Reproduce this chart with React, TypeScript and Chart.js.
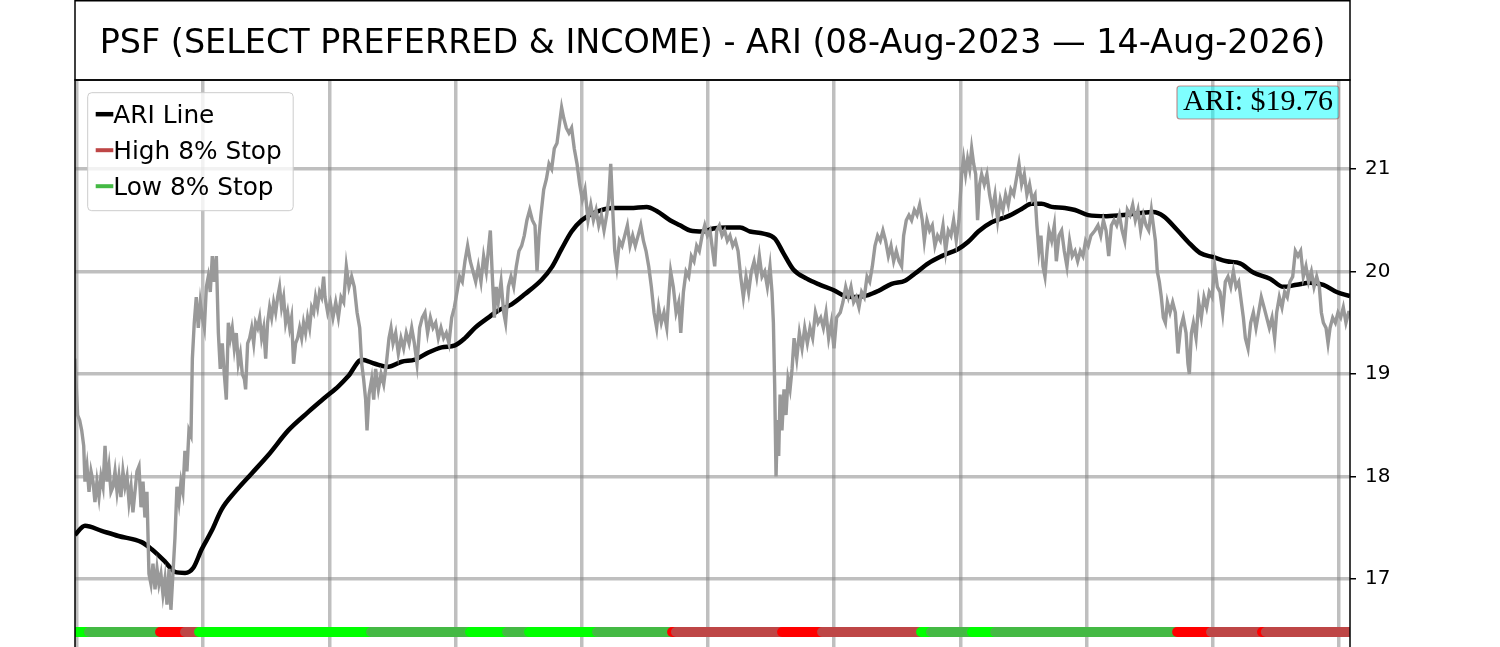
import React, { useEffect, useRef } from "react";
import { Chart, registerables } from "chart.js";

Chart.register(...registerables);

const TITLE = "PSF (SELECT PREFERRED & INCOME) - ARI (08-Aug-2023 \u2014 14-Aug-2026)";
const LAST_LABEL = "ARI: $19.76";
const LEGEND_LABELS = ["ARI Line", "High 8% Stop", "Low 8% Stop"];

const X_MIN = -1.6;
const X_MAX = 1008.7;
const Y_MIN = 16.337;
const Y_MAX = 21.868;
const Y_TICKS = [17, 18, 19, 20, 21];
const X_GRID = [0, 100, 200, 300, 400, 500, 600, 700, 800, 900, 1000];
const BAND_LEVEL = 16.483;

// daily close (trading-day index, price)
const PRICE: [number, number][] = [
  [-1.6, 19.15], [-0.5, 18.85], [0.5, 18.6], [2.1, 18.55], [3.7, 18.45], [5.3, 18.3], [6.3, 17.95], [7.9, 18.1],
  [9.5, 17.85], [11.1, 18.05], [12.7, 17.95], [14.2, 17.75], [15.8, 17.95], [17.4, 17.8], [19.0, 18.0], [20.6, 17.9],
  [22.2, 18.3], [23.7, 17.95], [25.3, 18.1], [26.9, 17.85], [28.5, 17.9], [30.1, 18.05], [31.7, 17.85], [33.2, 18.0],
  [34.8, 17.8], [36.4, 18.05], [38.0, 17.9], [39.6, 18.0], [41.2, 17.75], [42.8, 17.9], [44.3, 17.65], [45.9, 17.85],
  [47.5, 18.05], [49.1, 18.1], [50.7, 17.7], [52.3, 17.95], [53.8, 17.6], [55.4, 17.85], [57.0, 17.05], [58.6, 16.95],
  [60.2, 17.15], [61.8, 16.9], [63.4, 17.1], [64.9, 16.95], [66.5, 17.05], [68.1, 16.85], [69.7, 17.0], [71.3, 16.75],
  [72.9, 17.1], [74.4, 16.7], [76.0, 17.05], [77.6, 17.4], [79.2, 17.9], [80.8, 17.75], [82.4, 17.95], [83.9, 17.85],
  [85.5, 18.25], [87.1, 18.05], [88.7, 18.45], [90.3, 18.4], [91.4, 19.15], [92.9, 19.5], [94.5, 19.75], [96.1, 19.45],
  [97.7, 19.7], [99.3, 19.55], [100.9, 19.45], [102.5, 19.85], [104.0, 19.95], [105.6, 19.8], [107.2, 20.15], [108.8, 19.9],
  [110.4, 20.15], [112.0, 19.4], [113.5, 19.05], [115.1, 19.3], [116.7, 19.0], [118.3, 18.75], [119.9, 19.5], [121.5, 19.35],
  [123.0, 19.45], [124.6, 19.25], [126.2, 19.4], [127.8, 19.1], [129.4, 19.2], [131.0, 19.0], [132.6, 18.95], [133.6, 18.85],
  [135.2, 19.3], [136.8, 19.35], [138.4, 19.45], [140.0, 19.3], [141.5, 19.5], [143.1, 19.45], [144.7, 19.55], [146.3, 19.35],
  [147.9, 19.45], [149.5, 19.15], [151.0, 19.5], [152.6, 19.65], [154.2, 19.55], [155.8, 19.7], [157.4, 19.6], [159.0, 19.75],
  [160.5, 19.85], [162.1, 19.65], [163.7, 19.75], [165.3, 19.5], [166.9, 19.6], [168.5, 19.45], [170.0, 19.55], [171.6, 19.1],
  [173.2, 19.3], [174.8, 19.35], [176.4, 19.45], [178.0, 19.35], [179.5, 19.5], [181.1, 19.4], [182.7, 19.55], [184.3, 19.45],
  [185.9, 19.65], [187.5, 19.6], [189.0, 19.75], [190.6, 19.65], [192.2, 19.8], [193.8, 19.75], [195.4, 19.95],
  [196.5, 19.75], [198.6, 19.6], [200.7, 19.7], [202.8, 19.55], [205.0, 19.7], [207.1, 19.55], [209.2, 19.75], [211.3, 19.7],
  [213.4, 20.05], [215.5, 19.85], [217.6, 19.95], [219.7, 19.85], [221.9, 19.6], [224.0, 19.45], [225.6, 19.1], [227.1, 18.95],
  [228.7, 18.75], [229.8, 18.45], [231.4, 18.8], [233.5, 18.95], [235.1, 18.75], [236.6, 19.05], [238.8, 18.85], [240.9, 19.0],
  [243.0, 18.9], [245.1, 19.1], [247.2, 19.35], [248.8, 19.45], [250.4, 19.3], [252.5, 19.4], [254.6, 19.2], [256.7, 19.35],
  [258.8, 19.25], [260.9, 19.4], [263.1, 19.3], [265.2, 19.45], [267.3, 19.3], [269.4, 19.1], [271.5, 19.45], [273.6, 19.55],
  [275.7, 19.6], [277.8, 19.4], [280.0, 19.55], [282.1, 19.45], [284.2, 19.5], [286.3, 19.35], [288.4, 19.45], [290.5, 19.35],
  [292.6, 19.4], [294.7, 19.3], [296.9, 19.55], [299.0, 19.65], [301.1, 19.8], [303.2, 19.95], [305.3, 19.9], [307.4, 20.1],
  [309.5, 20.25], [311.6, 20.1], [313.8, 20.0], [315.9, 19.9], [318.0, 20.05], [320.1, 19.9], [322.2, 20.15], [324.3, 20.0],
  [325.9, 20.2], [327.5, 20.4], [329.1, 19.95], [330.7, 19.55], [332.2, 19.85], [333.8, 19.7], [336.0, 19.9], [338.1, 19.6],
  [339.6, 19.5], [341.8, 19.85], [343.9, 19.95], [346.0, 19.85], [348.1, 20.05], [350.2, 20.2], [352.3, 20.25], [354.4, 20.35],
  [356.5, 20.5], [358.7, 20.6], [360.8, 20.5], [362.9, 20.45], [364.5, 20.0], [366.1, 20.35], [367.6, 20.55], [369.8, 20.8],
  [371.9, 20.9], [374.0, 21.05], [376.1, 21.0], [378.2, 21.2], [380.3, 21.25], [382.4, 21.45], [384.0, 21.6], [385.6, 21.5],
  [387.7, 21.4], [389.8, 21.35], [391.9, 21.4], [394.0, 21.2], [396.2, 21.05], [398.3, 20.85], [400.4, 20.7], [402.5, 20.8],
  [404.9, 20.5], [407.1, 20.65], [409.2, 20.5], [411.3, 20.6], [413.4, 20.45], [415.5, 20.55], [417.6, 20.4], [419.7, 20.55],
  [421.3, 20.7], [422.9, 21.05], [424.5, 20.6], [426.1, 20.2], [427.7, 20.05], [429.8, 20.3], [431.9, 20.25], [434.0, 20.35],
  [436.1, 20.45], [438.2, 20.25], [440.3, 20.35], [442.4, 20.25], [444.6, 20.35], [446.7, 20.45], [448.8, 20.3], [450.9, 20.2],
  [453.0, 20.05], [455.1, 19.85], [457.2, 19.6], [459.3, 19.45], [460.9, 19.65], [463.0, 19.5], [465.1, 19.6], [467.3, 19.45],
  [468.9, 19.75], [470.4, 20.0], [472.5, 19.85], [474.7, 19.6], [476.8, 19.7], [478.4, 19.4], [480.5, 19.8], [482.6, 20.0],
  [484.7, 19.95], [486.8, 20.15], [488.9, 20.1], [491.0, 20.25], [493.1, 20.2], [495.3, 20.35], [497.4, 20.45], [499.5, 20.35],
  [501.6, 20.4], [503.7, 20.2], [505.3, 20.05], [506.9, 20.4], [509.0, 20.45], [511.1, 20.35], [513.2, 20.4], [515.3, 20.3],
  [517.4, 20.35], [519.6, 20.25], [521.7, 20.3], [523.8, 20.2], [525.9, 19.95], [528.0, 19.75], [530.1, 19.95], [532.2, 19.8],
  [534.3, 20.0], [536.5, 20.1], [538.6, 19.95], [540.7, 20.15], [542.8, 19.95], [544.9, 20.0], [547.0, 19.85], [549.1, 20.05],
  [550.7, 19.8], [551.8, 19.5], [552.8, 18.9], [553.9, 18.0], [555.0, 18.55], [556.0, 18.2], [557.1, 18.8], [558.6, 18.45],
  [560.2, 18.85], [561.8, 18.6], [563.4, 18.95], [565.0, 18.85], [566.6, 19.05], [568.2, 19.35], [570.3, 19.15], [572.4, 19.4],
  [574.5, 19.25], [576.6, 19.45], [578.7, 19.3], [580.8, 19.45], [582.9, 19.35], [585.1, 19.6], [587.2, 19.5], [589.3, 19.55],
  [591.4, 19.45], [593.5, 19.6], [595.6, 19.35], [597.7, 19.5], [599.8, 19.25], [601.9, 19.55], [604.8, 19.6], [606.9, 19.7],
  [609.1, 19.85], [611.2, 19.75], [613.3, 19.85], [615.4, 19.7], [617.5, 19.75], [619.6, 19.65], [621.7, 19.8], [623.8, 19.75],
  [626.0, 19.95], [628.1, 19.9], [630.2, 20.05], [632.3, 20.25], [634.4, 20.35], [636.5, 20.3], [638.6, 20.4], [640.7, 20.3],
  [642.9, 20.15], [645.0, 20.25], [647.1, 20.1], [649.2, 20.2], [651.3, 20.1], [653.4, 20.05], [655.0, 20.35], [657.1, 20.5],
  [659.2, 20.55], [661.3, 20.5], [663.5, 20.6], [665.6, 20.55], [667.7, 20.65], [669.8, 20.5], [671.4, 20.3], [673.5, 20.5],
  [675.6, 20.4], [677.7, 20.45], [679.8, 20.25], [681.9, 20.35], [684.1, 20.3], [686.2, 20.45], [688.3, 20.2], [690.4, 20.4],
  [692.5, 20.35], [694.6, 20.5], [696.7, 20.3], [698.8, 20.5], [701.0, 20.95], [702.5, 21.1], [704.1, 20.95], [705.7, 21.1],
  [707.3, 21.0], [708.9, 21.2], [710.5, 21.05], [712.1, 20.95], [713.6, 20.5], [715.2, 20.85], [716.8, 20.95], [718.9, 20.85],
  [721.0, 20.95], [723.1, 20.75], [725.3, 20.6], [727.4, 20.75], [729.5, 20.5], [731.6, 20.7], [733.7, 20.6], [735.8, 20.75],
  [737.9, 20.65], [740.0, 20.8], [742.2, 20.75], [744.3, 20.9], [746.4, 21.05], [748.5, 20.85], [750.6, 20.95], [752.7, 20.75],
  [754.8, 20.85], [756.9, 20.7], [759.1, 20.75], [760.6, 20.45], [762.2, 20.2], [763.8, 20.35], [765.4, 20.05], [767.0, 19.95],
  [768.6, 20.2], [770.2, 20.4], [772.3, 20.3], [774.4, 20.45], [776.0, 20.1], [778.1, 20.35], [780.2, 20.4], [782.3, 20.2],
  [784.4, 20.05], [786.5, 20.3], [788.6, 20.15], [790.8, 20.2], [792.9, 20.1], [795.0, 20.2], [797.1, 20.15], [799.2, 20.3],
  [801.3, 20.25], [803.4, 20.35], [806.6, 20.4], [809.0, 20.45], [811.2, 20.35], [813.3, 20.5], [815.4, 20.4], [817.5, 20.15],
  [819.6, 20.45], [821.7, 20.5], [823.8, 20.45], [826.0, 20.55], [828.1, 20.4], [830.2, 20.3], [832.3, 20.6], [834.4, 20.55],
  [836.5, 20.65], [838.6, 20.5], [840.7, 20.6], [842.8, 20.4], [845.0, 20.55], [847.1, 20.45], [849.2, 20.4], [851.3, 20.6],
  [852.9, 20.45], [854.5, 20.3], [856.0, 20.0], [857.6, 19.9], [859.2, 19.75], [860.8, 19.55], [862.4, 19.5], [864.0, 19.7],
  [866.1, 19.6], [868.2, 19.7], [870.3, 19.6], [872.4, 19.2], [874.5, 19.45], [876.6, 19.55], [878.8, 19.4], [880.3, 19.1],
  [881.4, 19.0], [883.0, 19.4], [884.6, 19.5], [886.7, 19.35], [888.8, 19.7], [890.9, 19.55], [893.0, 19.75], [895.1, 19.65],
  [897.2, 19.8], [899.4, 19.75], [901.5, 20.05], [903.6, 19.85], [905.7, 19.8], [907.8, 19.6], [909.9, 19.9], [912.0, 19.95],
  [914.2, 19.85], [916.3, 20.0], [918.4, 19.85], [920.5, 19.9], [922.6, 19.7], [924.2, 19.55], [925.8, 19.35], [927.9, 19.25],
  [930.0, 19.5], [932.1, 19.6], [934.2, 19.45], [936.3, 19.6], [938.4, 19.75], [940.6, 19.65], [942.7, 19.55], [944.8, 19.45],
  [946.9, 19.55], [949.0, 19.35], [950.6, 19.6], [952.7, 19.75], [954.8, 19.65], [956.9, 19.8], [959.0, 19.75], [961.1, 19.9],
  [963.3, 19.95], [965.4, 20.2], [967.5, 20.15], [969.6, 20.2], [971.7, 19.95], [973.8, 20.05], [975.9, 19.9], [978.1, 20.0],
  [980.2, 19.85], [982.3, 19.95], [984.4, 19.85], [986.0, 19.6], [987.6, 19.5], [989.7, 19.45], [991.3, 19.3], [992.9, 19.45],
  [995.0, 19.55], [997.1, 19.5], [999.2, 19.6], [1001.3, 19.55], [1003.4, 19.65], [1005.5, 19.5], [1007.6, 19.6], [1008.7, 19.6],
];

// smoothed ARI line
const ARI: [number, number][] = [
  [-1.6, 17.43], [6.3, 17.52], [19.5, 17.47], [32.8, 17.42], [51.2, 17.36], [59.2, 17.29], [69.7, 17.17], [77.6, 17.07],
  [85.6, 17.06], [92.2, 17.11], [98.8, 17.29], [106.7, 17.47], [114.6, 17.68], [125.2, 17.85], [138.4, 18.03], [151.6, 18.21],
  [167.4, 18.45], [183.3, 18.63], [196.5, 18.77], [207.1, 18.88], [215.0, 18.98], [225.6, 19.14], [236.1, 19.1], [246.7, 19.07],
  [257.2, 19.12], [267.8, 19.14], [278.4, 19.21], [288.9, 19.26], [299.5, 19.28], [307.4, 19.35], [315.3, 19.45], [325.9, 19.55],
  [333.8, 19.62], [344.4, 19.68], [355.0, 19.78], [368.2, 19.92], [376.1, 20.04], [384.0, 20.22], [391.9, 20.39], [399.9, 20.5],
  [409.2, 20.57], [425.0, 20.62], [438.2, 20.62], [451.4, 20.63], [459.3, 20.59], [469.9, 20.5], [477.8, 20.45], [485.8, 20.4],
  [496.3, 20.39], [504.2, 20.42], [514.8, 20.43], [525.4, 20.43], [533.3, 20.39], [543.9, 20.37], [553.1, 20.32], [559.7, 20.18],
  [567.6, 20.02], [578.2, 19.93], [588.8, 19.87], [599.3, 19.82], [608.5, 19.76], [616.4, 19.75], [627.0, 19.77], [634.9, 19.81],
  [645.5, 19.88], [656.1, 19.91], [664.0, 19.98], [674.5, 20.08], [685.1, 20.15], [698.3, 20.22], [706.2, 20.29], [714.2, 20.39],
  [724.7, 20.48], [737.9, 20.54], [748.5, 20.61], [756.4, 20.66], [764.3, 20.66], [772.3, 20.63], [782.8, 20.62], [790.8, 20.6],
  [801.3, 20.55], [815.9, 20.54], [829.1, 20.55], [842.3, 20.57], [852.9, 20.58], [860.8, 20.54], [871.4, 20.41], [881.9, 20.27],
  [889.9, 20.18], [900.4, 20.14], [911.0, 20.1], [921.5, 20.08], [932.1, 19.99], [945.3, 19.93], [955.9, 19.85], [966.4, 19.87],
  [977.0, 19.89], [987.6, 19.87], [998.1, 19.8], [1008.7, 19.76],
];

// stop-signal state changes along the bottom strip
const SIGNAL_STARTS = [-1.6, 9.5, 65.8, 85.6, 96.7, 233, 311.4, 340.8, 358.2, 412.1, 471.5, 474.6, 558.7, 590.4, 668.8, 676.7, 709.2, 727.5, 871.7, 898.6, 939, 942];
const SIGNAL_STATES = ["L", "G", "R", "D", "L", "G", "L", "G", "L", "G", "R", "D", "R", "D", "L", "G", "L", "G", "R", "D", "R", "D"];

const STATE_COLORS: Record<string, string> = {
  L: "#00ff00",
  G: "#44b944",
  R: "#ff0000",
  D: "#be4646",
};
const LEGEND_COLORS = ["#000000", "#be4646", "#44b944"];
const GRID_COLOR = "rgba(128,128,128,0.5)";

export default function App() {
  const ref = useRef<HTMLCanvasElement | null>(null);

  useEffect(() => {
    document.body.style.margin = "0";
    document.body.style.background = "#ffffff";
    const canvas = ref.current;
    if (!canvas) return;

    const bandSets = SIGNAL_STARTS.map((s, i) => ({
      type: "line" as const,
      label: "signal" + i,
      data: [
        { x: s, y: BAND_LEVEL },
        { x: i + 1 < SIGNAL_STARTS.length ? SIGNAL_STARTS[i + 1] : X_MAX, y: BAND_LEVEL },
      ],
      borderColor: STATE_COLORS[SIGNAL_STATES[i]],
      borderWidth: 10,
      borderCapStyle: "round" as const,
      pointRadius: 0,
      clip: 0,
      order: 1 - i / 100,
    }));

    const overlay = {
      id: "overlay",
      afterDraw(chart: any) {
        const ctx = chart.ctx as CanvasRenderingContext2D;
        const a = chart.chartArea;
        ctx.save();
        // spines
        ctx.strokeStyle = "#000";
        ctx.lineWidth = 1.5;
        ctx.beginPath();
        ctx.moveTo(a.left, a.bottom + 5);
        ctx.lineTo(a.left, a.top);
        ctx.lineTo(a.right, a.top);
        ctx.lineTo(a.right, a.bottom + 5);
        ctx.stroke();
        // title box
        ctx.strokeRect(a.left, 0.75, a.right - a.left, a.top - 0.75);
        ctx.fillStyle = "#000";
        ctx.font = '33.4px "DejaVu Sans"';
        ctx.textAlign = "center";
        ctx.textBaseline = "alphabetic";
        ctx.fillText(TITLE, (a.left + a.right) / 2, 52.5);

        // legend
        const lx = a.left + 12.7;
        const ly = a.top + 12.7;
        ctx.beginPath();
        if ((ctx as any).roundRect) (ctx as any).roundRect(lx, ly, 205.5, 118, 4);
        else ctx.rect(lx, ly, 205.5, 118);
        ctx.fillStyle = "rgba(255,255,255,0.8)";
        ctx.fill();
        ctx.strokeStyle = "#cccccc";
        ctx.lineWidth = 1;
        ctx.stroke();
        ctx.font = '24.8px "DejaVu Sans"';
        ctx.textAlign = "left";
        LEGEND_LABELS.forEach((lab, i) => {
          const base = ly + 29.8 + i * 36;
          ctx.strokeStyle = LEGEND_COLORS[i];
          ctx.lineWidth = i === 0 ? 4.5 : 4;
          ctx.beginPath();
          ctx.moveTo(lx + 8, base - 8.3);
          ctx.lineTo(lx + 25.6, base - 8.3);
          ctx.stroke();
          ctx.fillStyle = "#000";
          ctx.fillText(lab, lx + 25.6, base);
        });

        // last value annotation
        ctx.font = '30px "Liberation Serif"';
        const tw = ctx.measureText(LAST_LABEL).width;
        const bw = tw + 12;
        const bx = a.right - 11 - bw;
        const by = a.top + 6;
        ctx.beginPath();
        if ((ctx as any).roundRect) (ctx as any).roundRect(bx, by, bw, 33, 3);
        else ctx.rect(bx, by, bw, 33);
        ctx.fillStyle = "rgba(0,255,255,0.5)";
        ctx.fill();
        ctx.strokeStyle = "rgba(180,100,100,0.7)";
        ctx.lineWidth = 1.2;
        ctx.stroke();
        ctx.fillStyle = "#000";
        ctx.textAlign = "center";
        ctx.fillText(LAST_LABEL, bx + bw / 2, by + 24);
        ctx.restore();
      },
    };

    const chart = new Chart(canvas, {
      type: "line",
      data: {
        datasets: [
          {
            label: "ARI Line",
            data: ARI.map(([x, y]) => ({ x, y })),
            borderColor: "#000000",
            borderWidth: 4.5,
            pointRadius: 0,
            cubicInterpolationMode: "monotone",
            clip: 0,
            order: 3,
          } as any,
          {
            label: "Price",
            data: PRICE.map(([x, y]) => ({ x, y })),
            borderColor: "#999999",
            borderWidth: 3.4,
            pointRadius: 0,
            tension: 0,
            clip: 0,
            order: 2,
          } as any,
          ...(bandSets as any[]),
        ],
      },
      options: {
        responsive: false,
        animation: false,
        devicePixelRatio: 1,
        events: [],
        layout: { autoPadding: false, padding: { left: 75, top: 80, right: 0, bottom: 0 } } as any,
        plugins: {
          legend: { display: false },
          tooltip: { enabled: false },
        },
        scales: {
          x: {
            type: "linear",
            position: "bottom",
            min: X_MIN,
            max: X_MAX,
            afterBuildTicks: (s: any) => {
              s.ticks = X_GRID.map((v) => ({ value: v }));
            },
            afterFit: (s: any) => {
              s.height = 0;
              s.paddingLeft = 0;
              s.paddingRight = 0;
            },
            ticks: { display: false },
            border: { display: false },
            grid: { color: GRID_COLOR, lineWidth: 3.5, drawTicks: false },
          },
          y: {
            type: "linear",
            position: "right",
            min: Y_MIN,
            max: Y_MAX,
            afterBuildTicks: (s: any) => {
              s.ticks = Y_TICKS.map((v) => ({ value: v }));
            },
            afterFit: (s: any) => {
              s.width = 150;
              s.paddingTop = 0;
              s.paddingBottom = 0;
            },
            ticks: {
              color: "#000",
              font: { family: "DejaVu Sans", size: 20 },
              padding: 9,
              callback: (v: any) => String(v),
            },
            border: { display: false },
            grid: {
              color: GRID_COLOR,
              lineWidth: 3.5,
              drawTicks: true,
              tickLength: 6,
              tickColor: "#000",
              tickWidth: 1.5,
            },
          },
        },
      } as any,
      plugins: [overlay],
    });

    return () => {
      chart.destroy();
    };
  }, []);

  return (
    <div style={{ position: "relative", width: 1500, height: 647, overflow: "hidden", background: "#fff" }}>
      <canvas ref={ref} width={1500} height={647} style={{ display: "block" }} />
    </div>
  );
}
